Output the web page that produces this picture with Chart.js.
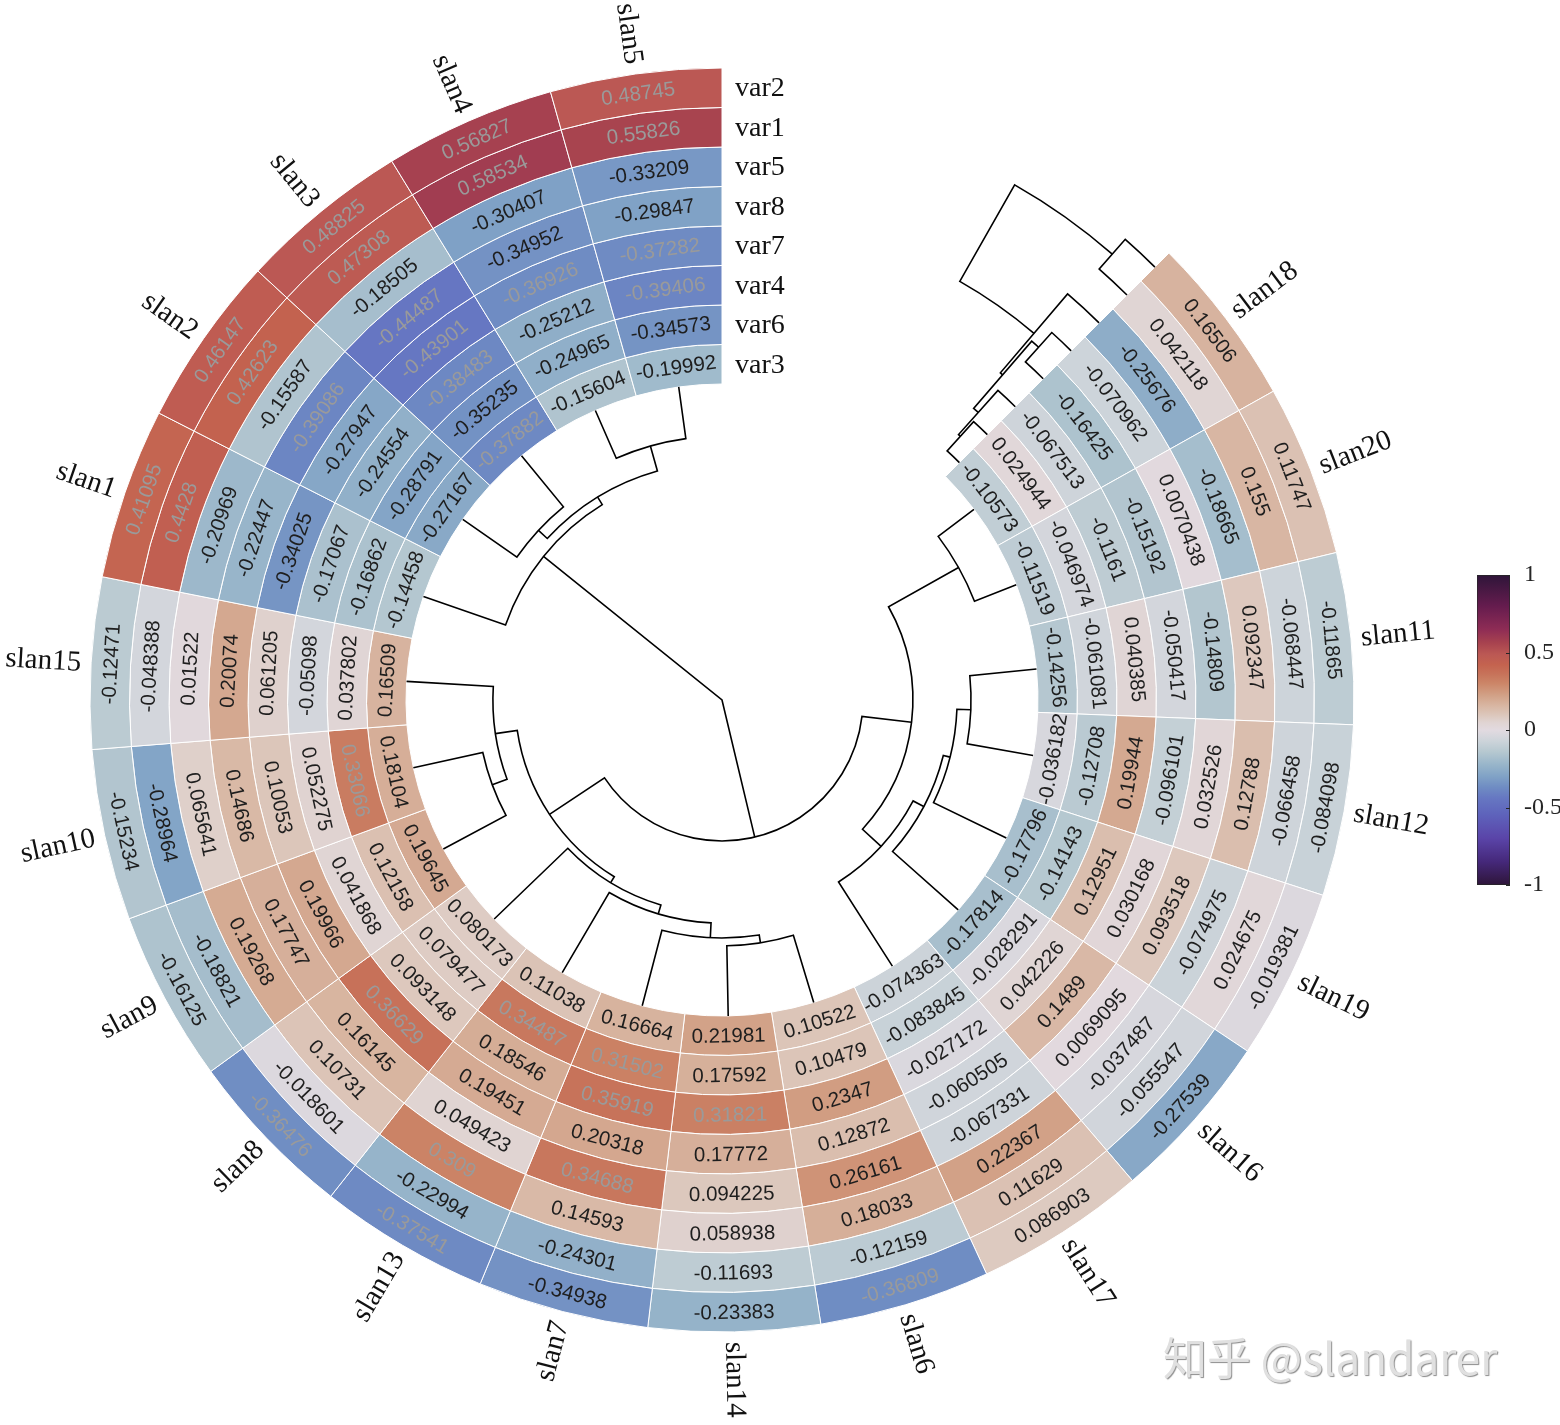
<!DOCTYPE html>
<html>
<head>
<meta charset="utf-8">
<title>circular heatmap</title>
<script src="https://cdn.jsdelivr.net/npm/chart.js@4.4.1/dist/chart.umd.min.js"></script>
<style>
  html, body { margin: 0; padding: 0; background: #fff; }
  body { width: 1560px; height: 1425px; position: relative; overflow: hidden; }
  #heatChart { position: absolute; left: 0; top: 0; }
  #barChart { position: absolute; left: 1477px; top: 545px; }
  .mark { position: absolute; left: 1163px; top: 1324px; font: 44px "Noto Sans CJK SC", sans-serif;
          color: #e0e0e0; text-shadow: 1px 1px 1px #8c8c8c; white-space: nowrap; }
</style>
</head>
<body>
<canvas id="heatChart" width="1560" height="1425"></canvas>
<canvas id="barChart" width="83" height="370"></canvas>
<div class="mark">知乎 @slandarer</div>
<script>
// slices counter-clockwise from 12 o'clock, as they appear
const slanOrder = ['slan5', 'slan4', 'slan3', 'slan2', 'slan1', 'slan15', 'slan10', 'slan9', 'slan8', 'slan13',
                   'slan7', 'slan14', 'slan6', 'slan17', 'slan16', 'slan19', 'slan12', 'slan11', 'slan20', 'slan18'];
// rings from outside to inside
const varOrder = ['var2', 'var1', 'var5', 'var8', 'var7', 'var4', 'var6', 'var3'];

const var2 = [0.48745, 0.56827, 0.48825, 0.46147, 0.41095, -0.12471, -0.15234, -0.16125, -0.36476, -0.37541,
              -0.34938, -0.23383, -0.36809, 0.086903, -0.27539, -0.019381, -0.084098, -0.11865, 0.11747, 0.16506];
const var1 = [0.55826, 0.58534, 0.47308, 0.42623, 0.4428, -0.048388, -0.28964, -0.18821, -0.018601, -0.22994,
              -0.24301, -0.11693, -0.12159, 0.11629, -0.055547, 0.024675, -0.066458, -0.068447, 0.155, 0.042118];
const var5 = [-0.33209, -0.30407, -0.18505, -0.15587, -0.20969, 0.01522, 0.065641, 0.19268, 0.10731, 0.309,
              0.14593, 0.058938, 0.18033, 0.22367, -0.037487, -0.074975, 0.12788, 0.092347, -0.18665, -0.25676];
const var8 = [-0.29847, -0.34952, -0.44487, -0.39086, -0.22447, 0.20074, 0.14686, 0.17747, 0.16145, 0.049423,
              0.34688, 0.094225, 0.26161, -0.067331, 0.0069095, 0.093518, 0.032526, -0.14809, 0.0070438, -0.070962];
const var7 = [-0.37282, -0.36926, -0.43901, -0.27947, -0.34025, 0.061205, 0.10053, 0.19966, 0.36629, 0.19451,
              0.20318, 0.17772, 0.12872, -0.060505, 0.1489, 0.030168, -0.096101, -0.050417, -0.15192, -0.16425];
const var4 = [-0.39406, -0.25212, -0.38483, -0.24554, -0.17067, -0.05098, 0.052275, 0.041868, 0.093148, 0.18546,
              0.35919, 0.31821, 0.2347, -0.027172, 0.042226, 0.12951, 0.19944, 0.040385, -0.1161, -0.067513];
const var6 = [-0.34573, -0.24965, -0.35235, -0.28791, -0.16862, 0.037802, 0.33066, 0.12158, 0.079477, 0.34487,
              0.31502, 0.17592, 0.10479, -0.083845, -0.028291, -0.14143, -0.12708, -0.061081, -0.046974, 0.024944];
const var3 = [-0.19992, -0.15604, -0.37882, -0.27167, -0.14458, 0.16509, 0.18104, 0.19645, 0.080173, 0.11038,
              0.16664, 0.21981, 0.10522, -0.074363, -0.17814, -0.17796, -0.036182, -0.14256, -0.11519, -0.10573];
const rings = { var2, var1, var5, var8, var7, var4, var6, var3 };

// slice dendrogram: [child, child, height], numbers point at earlier rows
const slanLinks = [
  ['slan5', 'slan4', 0.165],
  ['slan3', 'slan2', 0.209],
  [0, 1, 0.247],
  ['slan1', 2, 0.275],
  ['slan10', 'slan9', 0.225],
  ['slan15', 4, 0.275],
  ['slan14', 'slan6', 0.222],
  ['slan7', 6, 0.247],
  ['slan13', 7, 0.294],
  ['slan8', 8, 0.323],
  [5, 9, 0.345],
  ['slan18', 'slan20', 0.142],
  ['slan11', 'slan12', 0.212],
  ['slan19', 12, 0.256],
  ['slan16', 13, 0.278],
  ['slan17', 14, 0.316],
  [11, 15, 0.396],
  [10, 16, 0.554],
  [3, 17, 1.0]
];
// ring dendrogram, same layout
const varLinks = [
  ['var6', 'var3', 0.188],
  ['var4', 0, 0.214],
  ['var8', 'var7', 0.201],
  [2, 1, 0.273],
  ['var5', 3, 0.299],
  ['var2', 'var1', 0.247],
  [4, 5, 1.0]
];

const barTicks = [-1, -0.5, 0, 0.5, 1];

// colormap (twilight-like), value -> colour
const cmapValues = [-1, -0.85, -0.7, -0.55, -0.44, -0.37, -0.3, -0.22, -0.14, -0.07, 0,
                    0.05, 0.1, 0.16, 0.22, 0.3, 0.36, 0.42, 0.49, 0.56, 0.65, 0.8, 1];
const cmapColors = ['#2e1539', '#45287a', '#5a44a8', '#5e62bb', '#6677c2', '#6f8cc3', '#80a2c6', '#99b6ca',
                    '#b6c8d0', '#cdd4da', '#e2dae0', '#e0d4d2', '#dcc6ba', '#d8b5a1', '#d2a288', '#cc8668',
                    '#c7735a', '#c4634f', '#bb5854', '#a8434f', '#8e2c55', '#651c4e', '#2e1539'];

function hexRgb(h) {
  return [parseInt(h.slice(1, 3), 16), parseInt(h.slice(3, 5), 16), parseInt(h.slice(5, 7), 16)];
}
function heatRgb(v) {
  let i = 0;
  while (i < cmapValues.length - 2 && v > cmapValues[i + 1]) i++;
  const t = Math.min(1, Math.max(0, (v - cmapValues[i]) / (cmapValues[i + 1] - cmapValues[i])));
  const a = hexRgb(cmapColors[i]), b = hexRgb(cmapColors[i + 1]);
  return a.map((c, k) => Math.round(c + (b[k] - c) * t));
}
function heatColor(v) {
  const c = heatRgb(v);
  return 'rgb(' + c.join(',') + ')';
}
// light text on the strong cells, dark text elsewhere
function textColor(v) {
  return (v > 0.305 || v < -0.355) ? '#9a9a9a' : '#1e1e1e';
}

const cx = 722, cy = 700;
const clockwise = slanOrder.slice().reverse();

const ringDecor = {
  id: 'ringDecor',
  afterDatasetsDraw(chart) {
    const ctx = chart.ctx;
    const metas = varOrder.map((_, d) => chart.getDatasetMeta(d));

    // cell values
    ctx.save();
    ctx.font = '20.5px "Liberation Sans", Arial, sans-serif';
    ctx.textAlign = 'center';
    ctx.textBaseline = 'middle';
    metas.forEach((meta, d) => {
      const heat = chart.data.datasets[d].heat;
      meta.data.forEach((el, i) => {
        const p = el.getProps(['x', 'y', 'startAngle', 'endAngle', 'innerRadius', 'outerRadius'], true);
        const a = (p.startAngle + p.endAngle) / 2;
        const r = (p.innerRadius + p.outerRadius) / 2;
        let th = a + Math.PI / 2;
        th = ((th % (2 * Math.PI)) + 2 * Math.PI) % (2 * Math.PI);
        const rot = (th > Math.PI / 2 && th < 3 * Math.PI / 2) ? th - Math.PI : th;
        ctx.save();
        ctx.translate(p.x + r * Math.cos(a), p.y + r * Math.sin(a));
        ctx.rotate(rot);
        ctx.fillStyle = textColor(heat[i]);
        ctx.fillText(String(heat[i]), 0, 1);
        ctx.restore();
      });
    });
    ctx.restore();

    // slice names outside
    const outer = metas[0].data;
    ctx.save();
    ctx.font = '29px "Liberation Serif", "Times New Roman", serif';
    ctx.fillStyle = '#111';
    ctx.textBaseline = 'middle';
    const leafAngle = {};
    outer.forEach((el, i) => {
      const p = el.getProps(['x', 'y', 'startAngle', 'endAngle', 'outerRadius'], true);
      const a = (p.startAngle + p.endAngle) / 2;
      leafAngle[chart.data.labels[i]] = a;
      const r = p.outerRadius + 10;
      let th = a + Math.PI / 2;
      th = ((th % (2 * Math.PI)) + 2 * Math.PI) % (2 * Math.PI);
      ctx.save();
      ctx.translate(p.x + r * Math.cos(a), p.y + r * Math.sin(a));
      if (th < Math.PI) {
        ctx.rotate(a);
        ctx.textAlign = 'left';
      } else {
        ctx.rotate(a + Math.PI);
        ctx.textAlign = 'right';
      }
      ctx.fillText(chart.data.labels[i], 0, 1);
      ctx.restore();
    });

    // ring names at the opening
    ctx.font = '28px "Liberation Serif", "Times New Roman", serif';
    ctx.textAlign = 'left';
    const ringMid = {};
    metas.forEach((meta, d) => {
      const p = meta.data[0].getProps(['x', 'y', 'innerRadius', 'outerRadius'], true);
      const r = (p.innerRadius + p.outerRadius) / 2;
      ringMid[varOrder[d]] = r;
      ctx.fillText(varOrder[d], p.x + 13, p.y - r + 1);
    });
    ctx.restore();

    const first = metas[0].data[0].getProps(['x', 'y', 'startAngle'], true);
    const inner = metas[metas.length - 1].data[0].getProps(['innerRadius'], true).innerRadius;
    const ox = first.x, oy = first.y;

    ctx.save();
    ctx.strokeStyle = '#000';
    ctx.lineWidth = 1.6;

    // dendrogram of slices, leaves on the inner edge, root at the centre
    const slanTop = Math.max(...slanLinks.map(l => l[2]));
    const sNodes = [];
    slanLinks.forEach(([a, b, h]) => {
      const pick = k => typeof k === 'number' ? sNodes[k] : { ang: leafAngle[k], r: inner };
      const A = pick(a), B = pick(b);
      const r = inner * (1 - h / slanTop);
      ctx.beginPath();
      ctx.moveTo(ox + A.r * Math.cos(A.ang), oy + A.r * Math.sin(A.ang));
      ctx.lineTo(ox + r * Math.cos(A.ang), oy + r * Math.sin(A.ang));
      if (r > 0) ctx.arc(ox, oy, r, A.ang, B.ang, B.ang < A.ang);
      ctx.lineTo(ox + B.r * Math.cos(B.ang), oy + B.r * Math.sin(B.ang));
      ctx.stroke();
      sNodes.push({ ang: (A.ang + B.ang) / 2, r });
    });

    // dendrogram of rings, drawn into the opening
    const varTop = Math.max(...varLinks.map(l => l[2]));
    const span = 15.4 * Math.PI / 180;
    const a0 = first.startAngle;
    const vNodes = [];
    varLinks.forEach(([a, b, h]) => {
      const pick = k => typeof k === 'number' ? vNodes[k] : { ang: a0, r: ringMid[k] };
      const A = pick(a), B = pick(b);
      const ang = a0 - span * h / varTop;
      ctx.beginPath();
      ctx.arc(ox, oy, A.r, A.ang, ang, true);
      ctx.lineTo(ox + B.r * Math.cos(ang), oy + B.r * Math.sin(ang));
      ctx.arc(ox, oy, B.r, ang, B.ang, false);
      ctx.stroke();
      vNodes.push({ ang, r: (A.r + B.r) / 2 });
    });
    ctx.restore();
  }
};

new Chart(document.getElementById('heatChart'), {
  type: 'doughnut',
  data: {
    labels: clockwise,
    datasets: varOrder.map(name => {
      const vals = rings[name].slice().reverse();
      return {
        label: name,
        data: vals.map(() => 1),
        heat: vals,
        backgroundColor: vals.map(heatColor),
        borderColor: '#ffffff',
        borderWidth: 1
      };
    })
  },
  options: {
    responsive: false,
    animation: false,
    rotation: 45,
    circumference: 315,
    radius: 632,
    cutout: '50%',
    layout: { padding: { left: 0, right: 1560 - 2 * cx, top: 0, bottom: 1425 - 2 * cy } },
    plugins: {
      legend: { display: false },
      tooltip: { enabled: false }
    }
  },
  plugins: [ringDecor]
});

// colour bar
const barMarks = {
  id: 'barMarks',
  afterDatasetsDraw(chart) {
    const { ctx, chartArea } = chart;
    const y = chart.scales.y;
    ctx.save();
    ctx.strokeStyle = '#262626';
    ctx.lineWidth = 1;
    barTicks.forEach(v => {
      const py = Math.round(y.getPixelForValue(v)) + 0.5;
      ctx.beginPath();
      ctx.moveTo(chartArea.right - 4, py);
      ctx.lineTo(chartArea.right, py);
      ctx.stroke();
    });
    ctx.restore();
  }
};

new Chart(document.getElementById('barChart'), {
  type: 'bar',
  data: {
    labels: [''],
    datasets: [{
      data: [[-1, 1]],
      backgroundColor: c => {
        const { chartArea, ctx } = c.chart;
        if (!chartArea) return null;
        const g = ctx.createLinearGradient(0, chartArea.bottom, 0, chartArea.top);
        cmapValues.forEach((v, i) => g.addColorStop((v + 1) / 2, cmapColors[i]));
        return g;
      },
      borderColor: '#262626',
      borderWidth: 1,
      borderSkipped: false,
      barPercentage: 1,
      categoryPercentage: 1
    }]
  },
  options: {
    responsive: false,
    animation: false,
    layout: { padding: { top: 30, bottom: 30, left: 0, right: 0 } },
    plugins: { legend: { display: false }, tooltip: { enabled: false } },
    scales: {
      x: { display: false },
      y: {
        position: 'right',
        min: -1,
        max: 1,
        afterBuildTicks: s => { s.ticks = barTicks.map(v => ({ value: v })); },
        afterFit: s => { s.width = 50; },
        grid: { display: false },
        border: { display: false },
        ticks: {
          padding: 6,
          color: '#262626',
          font: { family: 'Liberation Serif', size: 24 },
          callback: v => String(v)
        }
      }
    }
  },
  plugins: [barMarks]
});
</script>
</body>
</html>
